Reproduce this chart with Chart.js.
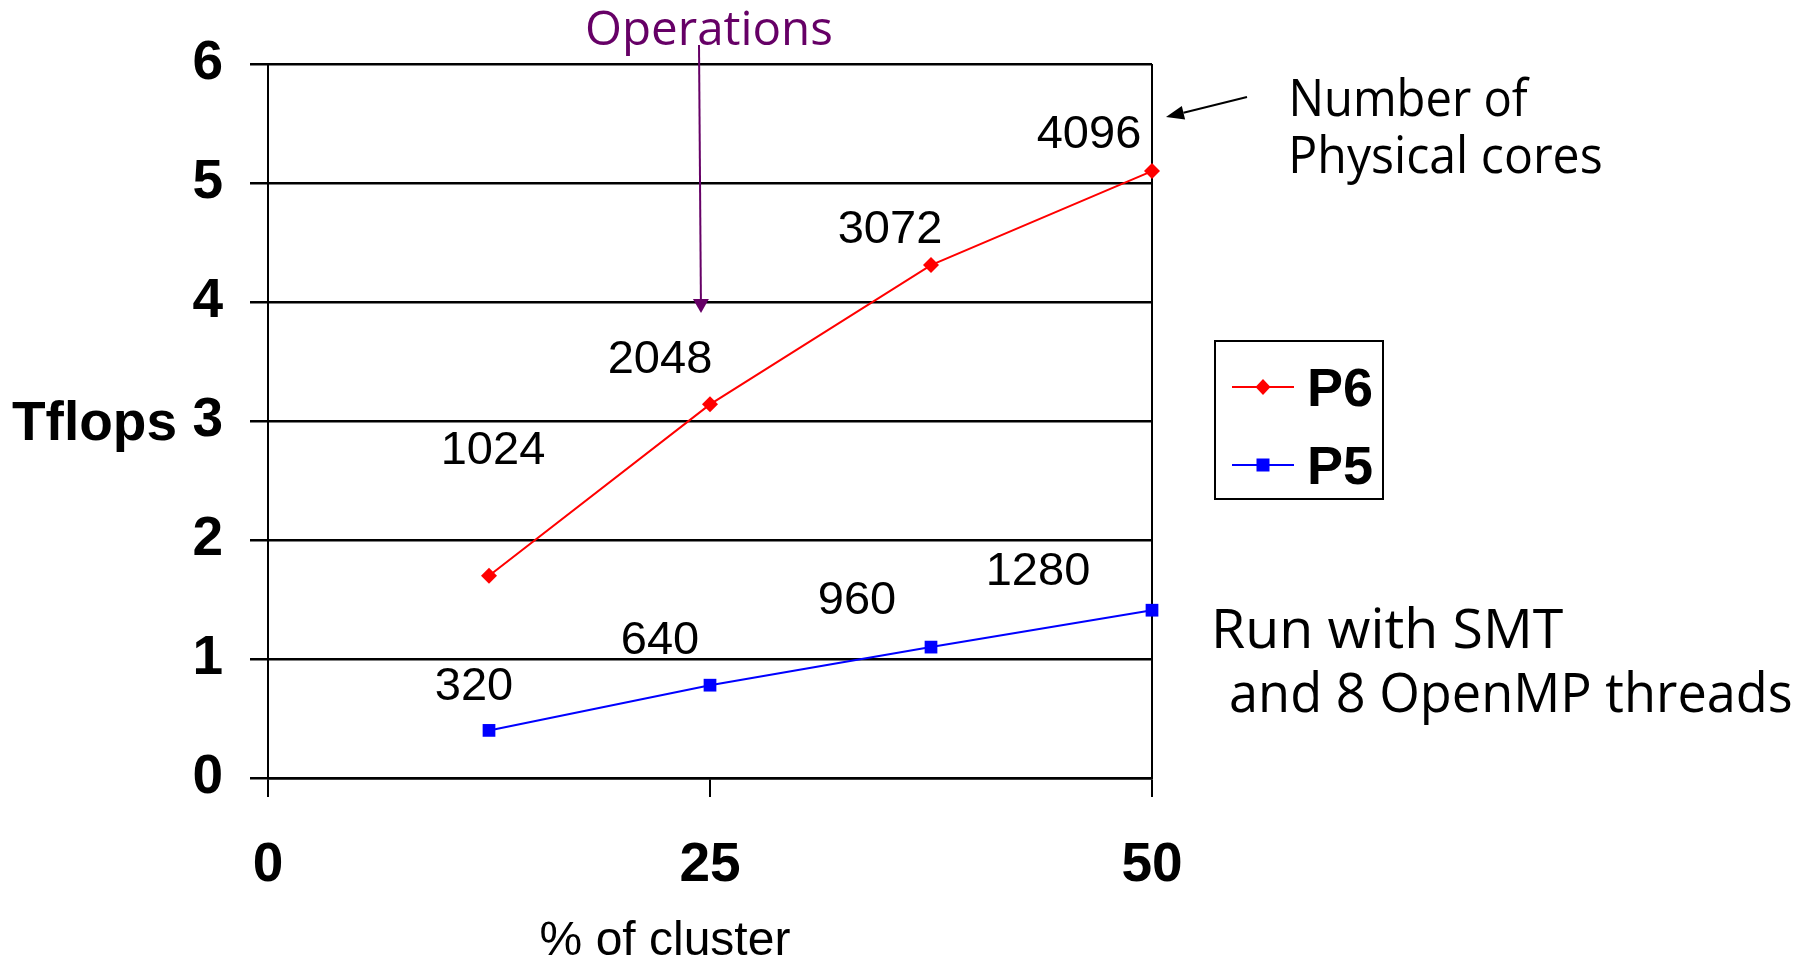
<!DOCTYPE html>
<html>
<head>
<meta charset="utf-8">
<script src="https://cdn.jsdelivr.net/npm/chart.js@4/dist/chart.umd.min.js"></script>
<style>
  html, body { margin: 0; padding: 0; background: #ffffff; overflow: hidden; }
  canvas { display: block; }
</style>
</head>
<body>
<canvas id="chart" width="1804" height="959"></canvas>
<script>
// ---- data ----
const clusterPct = [12.5, 25, 37.5, 50];
const p6Tflops = [1.70, 3.14, 4.31, 5.10];
const p5Tflops = [0.40, 0.78, 1.10, 1.41];
const p6Cores = [1024, 2048, 3072, 4096];
const p5Cores = [320, 640, 960, 1280];
const xTickValues = [0, 25, 50];
const yTickValues = [0, 1, 2, 3, 4, 5, 6];

// ---- styles ----
const INK = '#000000';
const RED = '#ff0000';
const BLUE = '#0000ff';
const PURPLE = '#660066';
const SANS = '"Liberation Sans", Arial, sans-serif';
const HAND = '"Open Sans", "DejaVu Sans", sans-serif';

// pixel offsets of each core-count label from its point (centre x, baseline y)
const coreLabelOffsets = [
  [[4, -112], [-50, -31], [-41, -22], [-63, -23]],
  [[-15, -30], [-50, -31], [-74, -33], [-114, -25]]
];

function fitText(ctx, text, x, baseline, width, size, family, color) {
  ctx.save();
  ctx.font = size + 'px ' + family;
  ctx.fillStyle = color;
  ctx.textAlign = 'left';
  ctx.textBaseline = 'alphabetic';
  const m = ctx.measureText(text);
  const w = m.actualBoundingBoxLeft + m.actualBoundingBoxRight;
  ctx.translate(x, baseline);
  ctx.scale(width / w, 1);
  ctx.fillText(text, m.actualBoundingBoxLeft, 0);
  ctx.restore();
}

function arrow(ctx, x1, y1, x2, y2, color, lw, headLen, headHalf) {
  const a = Math.atan2(y2 - y1, x2 - x1);
  const bx = x2 - headLen * Math.cos(a), by = y2 - headLen * Math.sin(a);
  ctx.save();
  ctx.strokeStyle = color;
  ctx.fillStyle = color;
  ctx.lineWidth = lw;
  ctx.beginPath();
  ctx.moveTo(x1, y1);
  ctx.lineTo(bx, by);
  ctx.stroke();
  ctx.beginPath();
  ctx.moveTo(x2, y2);
  ctx.lineTo(bx + headHalf * Math.sin(a), by - headHalf * Math.cos(a));
  ctx.lineTo(bx - headHalf * Math.sin(a), by + headHalf * Math.cos(a));
  ctx.closePath();
  ctx.fill();
  ctx.restore();
}

function marker(ctx, style, x, y, color) {
  ctx.save();
  ctx.fillStyle = color;
  ctx.beginPath();
  if (style === 'rectRot') {
    ctx.moveTo(x, y - 8); ctx.lineTo(x + 7.5, y); ctx.lineTo(x, y + 8); ctx.lineTo(x - 7.5, y);
  } else {
    ctx.rect(x - 6.5, y - 6.5, 13, 13);
  }
  ctx.closePath();
  ctx.fill();
  ctx.restore();
}

// core-count labels next to each point
const coreLabels = {
  id: 'coreLabels',
  afterDatasetsDraw(chart) {
    const ctx = chart.ctx;
    ctx.save();
    ctx.font = '47px ' + SANS;
    ctx.fillStyle = INK;
    ctx.textAlign = 'center';
    ctx.textBaseline = 'alphabetic';
    chart.data.datasets.forEach((ds, di) => {
      chart.getDatasetMeta(di).data.forEach((pt, i) => {
        const [dx, dy] = coreLabelOffsets[di][i];
        ctx.fillText(String(ds.cores[i]), pt.x + dx, pt.y + dy);
      });
    });
    ctx.restore();
  }
};

// boxed legend, axis captions and notes
const decorations = {
  id: 'decorations',
  afterDraw(chart) {
    const ctx = chart.ctx;

    // legend box
    ctx.save();
    ctx.fillStyle = '#ffffff';
    ctx.fillRect(1215, 341, 168, 158);
    ctx.strokeStyle = INK;
    ctx.lineWidth = 2;
    ctx.strokeRect(1215, 341, 168, 158);
    const rows = [387, 465];
    const baselines = [406, 484];
    chart.data.datasets.forEach((ds, i) => {
      const y = rows[i];
      ctx.strokeStyle = ds.borderColor;
      ctx.lineWidth = 2;
      ctx.beginPath();
      ctx.moveTo(1232, y);
      ctx.lineTo(1294, y);
      ctx.stroke();
      marker(ctx, ds.pointStyle, 1263, y, ds.borderColor);
      ctx.fillStyle = INK;
      ctx.font = 'bold 54px ' + SANS;
      ctx.textAlign = 'left';
      ctx.textBaseline = 'alphabetic';
      ctx.fillText(ds.label, 1307, baselines[i]);
    });
    ctx.restore();

    // axis captions
    ctx.save();
    ctx.fillStyle = INK;
    ctx.textBaseline = 'alphabetic';
    ctx.font = 'bold 55px ' + SANS;
    ctx.textAlign = 'right';
    ctx.fillText('Tflops', 177, 440);
    ctx.font = '48px ' + SANS;
    ctx.textAlign = 'center';
    ctx.fillText('% of cluster', 665, 955);
    ctx.restore();

    // notes
    fitText(ctx, 'Operations', 587, 45, 244, 48, HAND, PURPLE);
    arrow(ctx, 699, 45, 701, 313, PURPLE, 2, 14, 8);

    fitText(ctx, 'Number of', 1293, 116, 237, 52, HAND, INK);
    fitText(ctx, 'Physical cores', 1293, 173, 308, 52, HAND, INK);
    arrow(ctx, 1247, 97, 1166, 117, INK, 2, 18, 7);

    fitText(ctx, 'Run with SMT', 1216, 648, 347, 55, HAND, INK);
    fitText(ctx, 'and 8 OpenMP threads', 1231, 712, 560, 54, HAND, INK);
  }
};

new Chart(document.getElementById('chart'), {
  type: 'line',
  data: {
    datasets: [
      {
        label: 'P6',
        data: clusterPct.map((x, i) => ({ x, y: p6Tflops[i] })),
        cores: p6Cores,
        borderColor: RED,
        backgroundColor: RED,
        borderWidth: 2,
        pointStyle: 'rectRot',
        pointRadius: 8,
        pointBorderWidth: 0,
        tension: 0,
        clip: false
      },
      {
        label: 'P5',
        data: clusterPct.map((x, i) => ({ x, y: p5Tflops[i] })),
        cores: p5Cores,
        borderColor: BLUE,
        backgroundColor: BLUE,
        borderWidth: 2,
        pointStyle: 'rect',
        pointRadius: 9,
        pointBorderWidth: 0,
        tension: 0,
        clip: false
      }
    ]
  },
  options: {
    responsive: false,
    animation: false,
    devicePixelRatio: 1,
    events: [],
    layout: { padding: { left: 0, top: 64, right: 652, bottom: 0 } },
    plugins: {
      legend: { display: false },
      tooltip: { enabled: false }
    },
    scales: {
      x: {
        type: 'linear',
        min: 0,
        max: 50,
        afterBuildTicks(scale) { scale.ticks = xTickValues.map(v => ({ value: v })); },
        afterFit(scale) { scale.height = 181; },
        grid: {
          color: c => (c.tick && c.tick.value === 50 ? INK : 'rgba(0,0,0,0)'),
          tickColor: INK,
          lineWidth: 2,
          tickWidth: 2,
          tickLength: 19
        },
        border: { display: true, color: INK, width: 2.5 },
        ticks: {
          color: INK,
          padding: 36,
          maxRotation: 0,
          font: { family: SANS, size: 55, weight: 'bold' }
        }
      },
      y: {
        min: 0,
        max: 6,
        afterBuildTicks(scale) { scale.ticks = yTickValues.map(v => ({ value: v })); },
        afterFit(scale) { scale.width = 268; },
        grid: {
          color: INK,
          tickColor: INK,
          lineWidth: 2.5,
          tickWidth: 2.5,
          tickLength: 18
        },
        border: { display: true, color: INK, width: 2 },
        ticks: {
          color: INK,
          padding: 27,
          font: { family: SANS, size: 55, weight: 'bold' }
        }
      }
    }
  },
  plugins: [coreLabels, decorations]
});
</script>
</body>
</html>
